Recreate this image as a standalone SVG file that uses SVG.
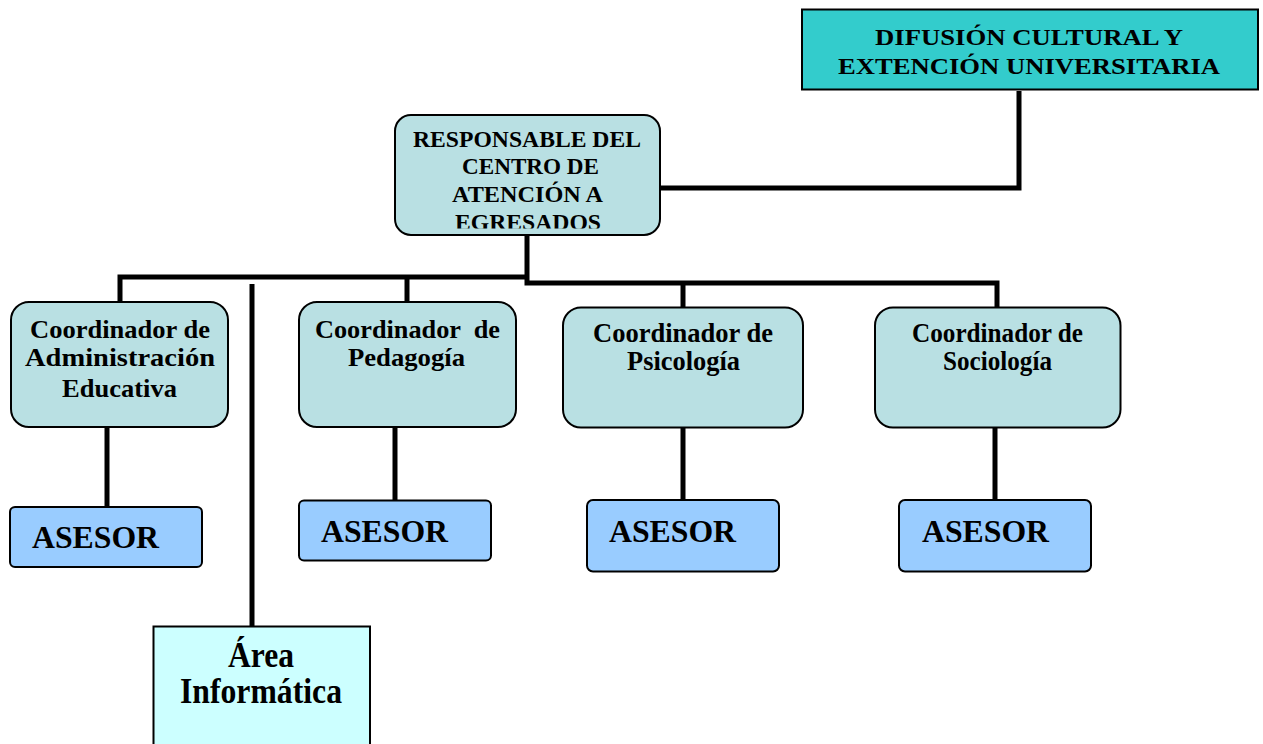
<svg xmlns="http://www.w3.org/2000/svg" width="1263" height="744" viewBox="0 0 1263 744">
<style>
text{font-family:"Liberation Serif","Times New Roman",serif;font-weight:bold;fill:#000}
.box{stroke:#000;stroke-width:2}
.coord{fill:#B9E0E3}
.ases{fill:#99CCFF}
.conn{fill:none;stroke:#000;stroke-width:5;stroke-linejoin:miter;stroke-linecap:butt}
.t23{font-size:24px}.t24{font-size:26px}.t25{font-size:27px}.t32{font-size:32px}.t34{font-size:35px}.tdif{font-size:24px}
</style>
<defs>
<clipPath id="clipResp"><rect x="395" y="115" width="265" height="113.5"/></clipPath>
</defs>
<rect width="1263" height="744" fill="#fff"/>
<g id="connectors">
<polyline class="conn" points="1019,91 1019,188 660,188"/>
<polyline class="conn" points="527,235 527,283 997,283 997,307"/>
<polyline class="conn" points="120,301 120,277 527,277"/>
<line class="conn" x1="407" y1="277" x2="407" y2="301"/>
<line class="conn" x1="683" y1="283" x2="683" y2="307"/>
<line class="conn" x1="252" y1="284" x2="252" y2="626"/>
<line class="conn" x1="107" y1="427" x2="107" y2="507"/>
<line class="conn" x1="395" y1="427" x2="395" y2="500"/>
<line class="conn" x1="683" y1="427" x2="683" y2="500"/>
<line class="conn" x1="995" y1="427" x2="995" y2="500"/>
</g>
<g id="difusion">
<rect class="box" x="802" y="9.5" width="456" height="80" fill="#33CCCC"/>
<text class="tdif" x="875" y="45" textLength="308" lengthAdjust="spacingAndGlyphs">DIFUSIÓN CULTURAL Y</text>
<text class="tdif" x="838" y="74" textLength="382" lengthAdjust="spacingAndGlyphs">EXTENCIÓN UNIVERSITARIA</text>
</g>
<g id="responsable">
<rect class="box coord" x="395" y="115" width="265" height="120" rx="16"/>
<g clip-path="url(#clipResp)">
<text class="t23" x="413" y="147" textLength="228" lengthAdjust="spacingAndGlyphs">RESPONSABLE DEL</text>
<text class="t23" x="462" y="174" textLength="137" lengthAdjust="spacingAndGlyphs">CENTRO DE</text>
<text class="t23" x="452" y="202" textLength="151" lengthAdjust="spacingAndGlyphs">ATENCIÓN A</text>
<text class="t23" x="455" y="230" textLength="146" lengthAdjust="spacingAndGlyphs">EGRESADOS</text>
</g>
</g>
<g id="coord-admin">
<rect class="box coord" x="11" y="302" width="217" height="125" rx="18"/>
<text class="t24" x="30" y="338" textLength="180" lengthAdjust="spacingAndGlyphs">Coordinador de</text>
<text class="t24" x="25" y="366" textLength="190" lengthAdjust="spacingAndGlyphs">Administración</text>
<text class="t24" x="62" y="397" textLength="115" lengthAdjust="spacingAndGlyphs">Educativa</text>
</g>
<g id="coord-pedagogia">
<rect class="box coord" x="299" y="302" width="217" height="125" rx="18"/>
<text class="t24" x="315" y="338" textLength="185" lengthAdjust="spacingAndGlyphs" xml:space="preserve">Coordinador  de</text>
<text class="t24" x="348" y="366" textLength="117" lengthAdjust="spacingAndGlyphs">Pedagogía</text>
</g>
<g id="coord-psicologia">
<rect class="box coord" x="563" y="307.5" width="240" height="120" rx="18"/>
<text class="t25" x="593" y="342" textLength="180" lengthAdjust="spacingAndGlyphs">Coordinador de</text>
<text class="t25" x="627" y="370" textLength="113" lengthAdjust="spacingAndGlyphs">Psicología</text>
</g>
<g id="coord-sociologia">
<rect class="box coord" x="875" y="307.5" width="245.5" height="120" rx="18"/>
<text class="t25" x="912" y="342" textLength="171" lengthAdjust="spacingAndGlyphs">Coordinador de</text>
<text class="t25" x="943" y="370" textLength="109" lengthAdjust="spacingAndGlyphs">Sociología</text>
</g>
<g id="asesor-1">
<rect class="box ases" x="10" y="507" width="192" height="60" rx="5"/>
<text class="t32" x="32" y="548" textLength="127" lengthAdjust="spacingAndGlyphs">ASESOR</text>
</g>
<g id="asesor-2">
<rect class="box ases" x="299" y="500.5" width="192" height="60" rx="5"/>
<text class="t32" x="321" y="542" textLength="127" lengthAdjust="spacingAndGlyphs">ASESOR</text>
</g>
<g id="asesor-3">
<rect class="box ases" x="587" y="500" width="192" height="71.5" rx="6"/>
<text class="t32" x="609" y="542" textLength="127" lengthAdjust="spacingAndGlyphs">ASESOR</text>
</g>
<g id="asesor-4">
<rect class="box ases" x="899" y="500" width="192" height="71.5" rx="6"/>
<text class="t32" x="922" y="542" textLength="127" lengthAdjust="spacingAndGlyphs">ASESOR</text>
</g>
<g id="area-informatica">
<rect class="box" x="153.5" y="626.5" width="216.5" height="130" fill="#CCFFFF"/>
<text class="t34" x="228" y="667" textLength="66" lengthAdjust="spacingAndGlyphs">Área</text>
<text class="t34" x="180" y="703" textLength="162" lengthAdjust="spacingAndGlyphs">Informática</text>
</g>
</svg>
